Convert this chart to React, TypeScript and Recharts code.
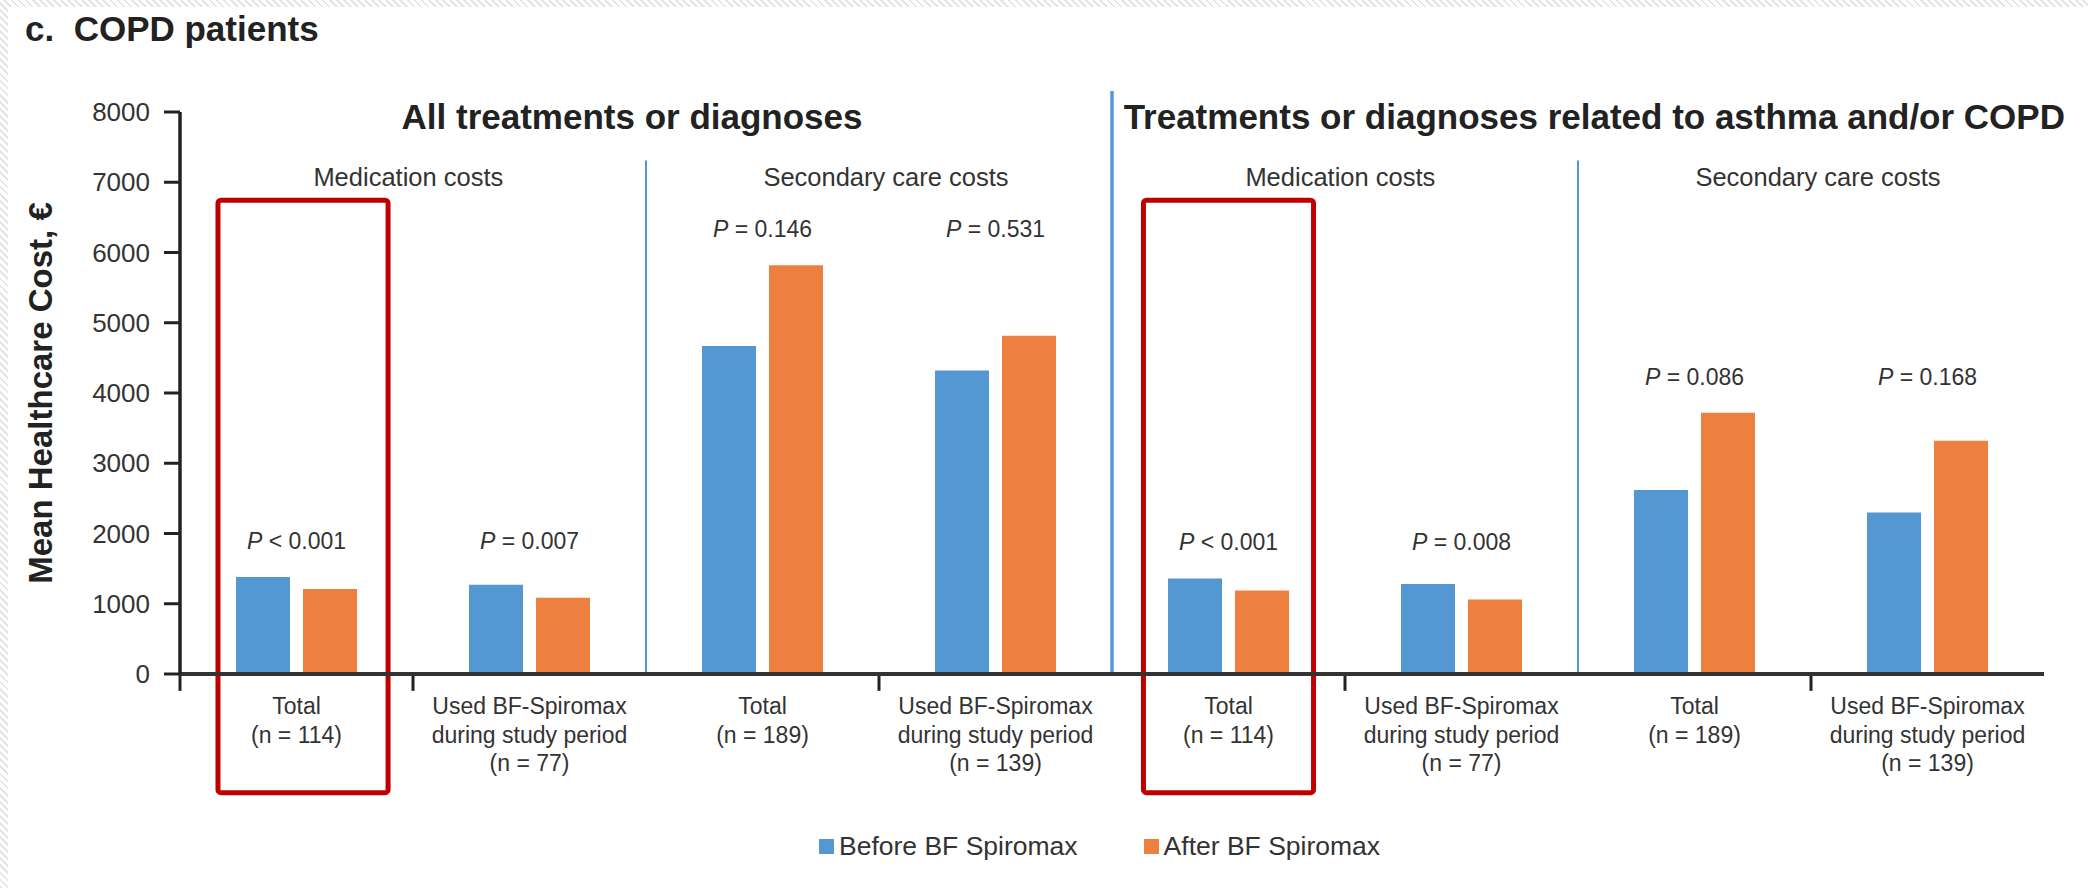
import React from 'react';
import {
  BarChart,
  Bar,
  XAxis,
  YAxis,
  ReferenceLine,
  ReferenceArea,
  ReferenceDot,
  LabelList,
  Legend,
} from 'recharts';

const FONT = '"Liberation Sans", Arial, sans-serif';

// categories along the x axis (one per bar pair)
const categoryLabels = [
  'Total\n(n = 114)',
  'Used BF-Spiromax\nduring study period\n(n = 77)',
  'Total\n(n = 189)',
  'Used BF-Spiromax\nduring study period\n(n = 139)',
  'Total\n(n = 114)',
  'Used BF-Spiromax\nduring study period\n(n = 77)',
  'Total\n(n = 189)',
  'Used BF-Spiromax\nduring study period\n(n = 139)',
];

const beforeCosts = [1380, 1270, 4670, 4320, 1360, 1280, 2620, 2300];
const afterCosts = [1210, 1085, 5820, 4815, 1190, 1060, 3720, 3320];
const pValues = ['< 0.001', '= 0.007', '= 0.146', '= 0.531', '< 0.001', '= 0.008', '= 0.086', '= 0.168'];

const yTicks = [0, 1000, 2000, 3000, 4000, 5000, 6000, 7000, 8000];
const seriesNames = ['Before BF Spiromax', 'After BF Spiromax'];
const sectionTitles = ['All treatments or diagnoses', 'Treatments or diagnoses related to asthma and/or COPD'];
const subTitles = ['Medication costs', 'Secondary care costs', 'Medication costs', 'Secondary care costs'];

const BLUE = '#5498D3';
const ORANGE = '#EE803F';
const RED = '#C00000';
const BAR_SIZE = 54;
const BAR_GAP = 13;

const data = categoryLabels.map((label, i) => ({
  key: `g${i}`,
  idx: i,
  label,
  before: beforeCosts[i],
  after: afterCosts[i],
}));

const CategoryTick = (props: any) => {
  const { x, y, payload } = props;
  const idx = data.findIndex((d) => d.key === payload.value);
  const lines = (categoryLabels[idx] || '').split('\n');
  return (
    <text x={x} y={y} textAnchor="middle" fontSize={23} fill="#333" fontFamily={FONT}>
      {lines.map((line, i) => (
        <tspan key={i} x={x} dy={i === 0 ? 40 : 28.5}>
          {line}
        </tspan>
      ))}
    </text>
  );
};

// P value sits above the taller bar of the Total / Used pair
const PLabel = (props: any) => {
  const vb = props.viewBox || props;
  const index = props.index;
  const partner = index % 2 === 0 ? index + 1 : index - 1;
  const pairMax = Math.max(beforeCosts[index], afterCosts[index], beforeCosts[partner], afterCosts[partner]);
  const pxPerUnit = vb.height / beforeCosts[index];
  const baseY = vb.y + vb.height;
  const top = baseY - pairMax * pxPerUnit;
  const cx = vb.x + vb.width + BAR_GAP / 2;
  return (
    <text x={cx} y={top - 28} textAnchor="middle" fontSize={23} fill="#333" fontFamily={FONT}>
      <tspan fontStyle="italic">P</tspan>
      <tspan> {pValues[index]}</tspan>
    </text>
  );
};

const YLabel = (props: any) => {
  const vb = props.viewBox;
  const cy = vb.y + vb.height / 2;
  const cx = 40;
  return (
    <text
      x={cx}
      y={cy}
      transform={`rotate(-90, ${cx}, ${cy})`}
      textAnchor="middle"
      dominantBaseline="central"
      fontSize={33}
      fontWeight="bold"
      fill="#222"
      fontFamily={FONT}
    >
      Mean Healthcare Cost, €
    </text>
  );
};

const LegendContent = () => (
  <div style={{ display: 'flex', alignItems: 'center', paddingLeft: 819, fontFamily: FONT, fontSize: 26.5, color: '#333' }}>
    {seriesNames.map((name, i) => (
      <div key={name} style={{ display: 'flex', alignItems: 'center', marginRight: 66 }}>
        <span style={{ width: 15, height: 15, background: i === 0 ? BLUE : ORANGE, marginRight: 5, display: 'inline-block' }} />
        <span>{name}</span>
      </div>
    ))}
  </div>
);

const boundaryTicks = [0, 1, 3, 5, 7];
const titleStyle = { fontSize: 35, fontWeight: 'bold', fill: '#222', fontFamily: FONT };
const subStyle = { fontSize: 25.5, fill: '#333', fontFamily: FONT };

export default function App() {
  return (
    <div
      style={{
        position: 'fixed',
        left: 0,
        top: 0,
        width: 2088,
        height: 888,
        background: 'repeating-linear-gradient(45deg, #e4e4e4 0px, #e4e4e4 2px, #ffffff 2px, #ffffff 5px)',
      }}
    >
      <div style={{ position: 'absolute', left: 8, top: 7, right: 0, bottom: 0, background: '#fff' }} />
      <div
        style={{
          position: 'absolute',
          left: 25,
          top: 11,
          fontFamily: FONT,
          fontSize: 35,
          lineHeight: 1,
          fontWeight: 'bold',
          color: '#222',
        }}
      >
        c.&nbsp; COPD patients
      </div>
      <div style={{ position: 'absolute', left: 0, top: 0 }}>
        <BarChart
          width={2088}
          height={888}
          data={data}
          margin={{ top: 112, right: 44, left: 0, bottom: 64 }}
          barGap={BAR_GAP}
        >
          <XAxis
            xAxisId="cat"
            dataKey="key"
            type="category"
            height={150}
            tickLine={false}
            tickSize={0}
            tickMargin={0}
            axisLine={{ stroke: '#333', strokeWidth: 4 }}
            tick={<CategoryTick />}
            interval={0}
          />
          {/* hidden linear axis spanning the 8 category bands, used to place annotations */}
          <XAxis xAxisId="pos" dataKey="idx" type="number" scale="linear" domain={[0, 8]} hide allowDataOverflow />
          <YAxis
            domain={[0, 8000]}
            ticks={yTicks}
            width={180}
            interval={0}
            tickSize={16}
            tickMargin={14}
            axisLine={{ stroke: '#222', strokeWidth: 3.5 }}
            tickLine={{ stroke: '#222', strokeWidth: 3 }}
            tick={{ fontSize: 26, fill: '#333', fontFamily: FONT }}
            label={YLabel}
          />
          <Bar xAxisId="cat" dataKey="before" name={seriesNames[0]} fill={BLUE} barSize={BAR_SIZE} isAnimationActive={false}>
            <LabelList dataKey="before" content={PLabel} />
          </Bar>
          <Bar xAxisId="cat" dataKey="after" name={seriesNames[1]} fill={ORANGE} barSize={BAR_SIZE} isAnimationActive={false} />

          {boundaryTicks.map((k) => (
            <ReferenceLine
              key={`t${k}`}
              xAxisId="pos"
              segment={[
                { x: k, y: 0 },
                { x: k, y: -240 },
              ]}
              stroke="#222"
              strokeWidth={3}
              ifOverflow="visible"
            />
          ))}
          <ReferenceLine xAxisId="pos" segment={[{ x: 2, y: 0 }, { x: 2, y: 7310 }]} stroke={BLUE} strokeWidth={2} ifOverflow="visible" />
          <ReferenceLine xAxisId="pos" segment={[{ x: 6, y: 0 }, { x: 6, y: 7310 }]} stroke={BLUE} strokeWidth={2} ifOverflow="visible" />
          <ReferenceLine xAxisId="pos" segment={[{ x: 4, y: 0 }, { x: 4, y: 8300 }]} stroke={BLUE} strokeWidth={3.5} ifOverflow="visible" />

          <ReferenceArea xAxisId="pos" x1={0.163} x2={0.893} y1={-1690} y2={6745} fill="none" stroke={RED} strokeWidth={5} ifOverflow="visible" radius={3} />
          <ReferenceArea xAxisId="pos" x1={4.135} x2={4.865} y1={-1690} y2={6745} fill="none" stroke={RED} strokeWidth={5} ifOverflow="visible" radius={3} />

          <ReferenceDot xAxisId="pos" x={1.94} y={7937} r={0} fill="none" stroke="none" ifOverflow="visible" label={{ value: sectionTitles[0], position: 'center', ...titleStyle }} />
          <ReferenceDot xAxisId="pos" x={6.07} y={7937} r={0} fill="none" stroke="none" ifOverflow="visible" label={{ value: sectionTitles[1], position: 'center', ...titleStyle }} />
          <ReferenceDot xAxisId="pos" x={0.98} y={7070} r={0} fill="none" stroke="none" ifOverflow="visible" label={{ value: subTitles[0], position: 'center', ...subStyle }} />
          <ReferenceDot xAxisId="pos" x={3.03} y={7070} r={0} fill="none" stroke="none" ifOverflow="visible" label={{ value: subTitles[1], position: 'center', ...subStyle }} />
          <ReferenceDot xAxisId="pos" x={4.98} y={7070} r={0} fill="none" stroke="none" ifOverflow="visible" label={{ value: subTitles[2], position: 'center', ...subStyle }} />
          <ReferenceDot xAxisId="pos" x={7.03} y={7070} r={0} fill="none" stroke="none" ifOverflow="visible" label={{ value: subTitles[3], position: 'center', ...subStyle }} />

          <Legend
            verticalAlign="middle"
            layout="horizontal"
            content={<LegendContent />}
            wrapperStyle={{ top: 831, left: 0, width: 2088 }}
          />
        </BarChart>
      </div>
    </div>
  );
}
